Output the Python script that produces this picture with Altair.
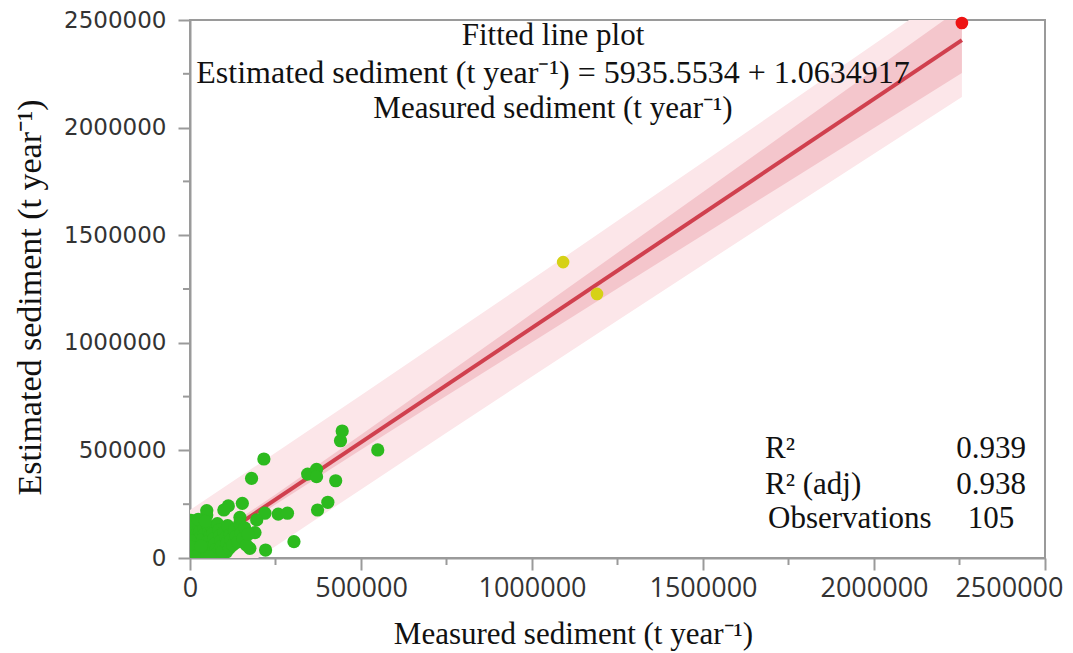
import altair as alt
import pandas as pd

# ---------------- data (t year^-1) ----------------
green_x = [445000, 440000, 549000, 216000, 180000, 344000, 370000, 370000, 426000, 403000,
           373000, 304000, 153000, 112000, 99000, 49000, 49000, 219000, 258000, 285000,
           195000, 146000, 175000, 221000, 190000, 107000, 132000,
           2000, 3000, 5000, 4000, 2000, 6000, 8000, 10000, 12000, 9000,
           11000, 14000, 15000, 18000, 20000, 17000, 19000, 22000, 25000, 25000,
           28000, 30000, 27000, 32000, 35000, 38000, 40000, 42000, 36000, 44000,
           46000, 50000, 52000, 55000, 58000, 50000, 60000, 62000, 65000, 68000,
           70000, 72000, 75000, 78000, 80000, 85000, 88000, 90000, 92000, 95000,
           100000, 105000, 108000, 110000, 115000, 118000, 120000, 125000, 130000, 135000,
           140000, 145000, 150000, 155000, 160000, 165000, 170000, 1000, 1000, 3000,
           7000, 13000, 24000, 33000, 45000, 57000]
green_y = [590000, 545000, 502000, 460000, 370000, 390000, 412000, 378000, 359000, 259000,
           223000, 76000, 254000, 242000, 223000, 220000, 200000, 208000, 204000, 208000,
           177000, 189000, 45000, 37000, 118000, 29000, 71000,
           150000, 120000, 90000, 60000, 30000, 10000, 170000, 140000, 100000, 75000,
           45000, 20000, 160000, 130000, 110000, 85000, 55000, 30000, 5000, 150000,
           120000, 95000, 70000, 40000, 15000, 165000, 140000, 110000, 85000, 60000,
           30000, 10000, 150000, 125000, 100000, 75000, 50000, 25000, 140000, 115000,
           90000, 65000, 40000, 20000, 160000, 130000, 105000, 80000, 55000, 30000,
           120000, 95000, 70000, 150000, 45000, 110000, 85000, 60000, 130000, 100000,
           75000, 160000, 115000, 90000, 140000, 60000, 110000, 5000, 80000, 175000,
           50000, 8000, 180000, 55000, 170000, 5000]
yellow_x = [1091000, 1190000]
yellow_y = [1375000, 1227000]
red_x = [2257000]
red_y = [2486000]

intercept = 5935.5534
slope = 1.0634917
fit_x = [0, 2257000]

band_x = [0, 250000, 500000, 750000, 1000000, 1250000, 1500000, 1750000, 2000000, 2257000]
ci_half = [22200, 23500, 35000, 50000, 66300, 83000, 100000, 117100, 134300, 152100]
pi_half = [217100, 217300, 218800, 221700, 225500, 231400, 238000, 245700, 254000, 264000]

major_ticks = [0, 500000, 1000000, 1500000, 2000000, 2500000]
minor_ticks = [250000, 750000, 1250000, 1750000, 2250000]

# ---------------- tables ----------------
pts = pd.DataFrame({"x": green_x, "y": green_y})
ylw = pd.DataFrame({"x": yellow_x, "y": yellow_y})
red = pd.DataFrame({"x": red_x, "y": red_y})
fit = pd.DataFrame({"x": fit_x, "y": [intercept + slope * v for v in fit_x]})
band = pd.DataFrame({
    "x": band_x,
    "ci_lo": [intercept + slope * v - h for v, h in zip(band_x, ci_half)],
    "ci_hi": [intercept + slope * v + h for v, h in zip(band_x, ci_half)],
    "pi_lo": [intercept + slope * v - h for v, h in zip(band_x, pi_half)],
    "pi_hi": [intercept + slope * v + h for v, h in zip(band_x, pi_half)],
})
minor = pd.DataFrame({"v": minor_ticks})

AX = "#9a9a9a"
SERIF = "Liberation Serif"

xs = alt.Scale(domain=[0, 2500000], nice=False, zero=False)
ys = alt.Scale(domain=[0, 2500000], nice=False, zero=False)

x_axis = alt.Axis(values=major_ticks, format="d", grid=False,
                  labelFont="Open Sans", labelFontSize=27, labelColor="#333333",
                  labelOverlap=False,
                  labelAlign={"condition": {"test": "datum.value == 2500000", "value": "right"},
                              "value": "center"},
                  labelOffset={"condition": {"test": "datum.value == 2500000", "value": 18},
                               "value": 0},
                  labelPadding=5, tickSize=12, tickColor=AX, tickWidth=2,
                  domainColor=AX, domainWidth=2,
                  title="Measured sediment (t year⁻¹)", titleFont=SERIF,
                  titleFontSize=31, titleFontWeight="normal", titleColor="#111111",
                  titleX=383, titleY=85, titleBaseline="alphabetic", titleAlign="center")
y_axis = alt.Axis(values=major_ticks, format="d", grid=False,
                  labelFont="DejaVu Sans", labelFontSize=23, labelColor="#333333",
                  labelPadding=12, tickSize=12, tickColor=AX, tickWidth=2,
                  domainColor=AX, domainWidth=2,
                  title="Estimated sediment (t year⁻¹)", titleFont=SERIF,
                  titleFontSize=34, titleFontWeight="normal", titleColor="#111111",
                  titleX=-150, titleY=277, titleAngle=270, titleBaseline="alphabetic",
                  titleAlign="center")

pi_area = alt.Chart(band).mark_area(color="#fce6e9", clip=True).encode(
    x=alt.X("x:Q", scale=xs, axis=x_axis),
    y=alt.Y("pi_lo:Q", scale=ys, axis=y_axis),
    y2="pi_hi:Q")
ci_area = alt.Chart(band).mark_area(color="#f4c6cc", clip=True).encode(
    x=alt.X("x:Q", scale=xs), y=alt.Y("ci_lo:Q", scale=ys), y2="ci_hi:Q")
line = alt.Chart(fit).mark_line(color="#d0404e", strokeWidth=4, clip=True).encode(
    x=alt.X("x:Q", scale=xs), y=alt.Y("y:Q", scale=ys))
green = alt.Chart(pts).mark_circle(color="#2cba1e", opacity=1, size=175, clip=True).encode(
    x=alt.X("x:Q", scale=xs), y=alt.Y("y:Q", scale=ys))
yellow = alt.Chart(ylw).mark_circle(color="#d6d116", opacity=1, size=160, clip=True).encode(
    x=alt.X("x:Q", scale=xs), y=alt.Y("y:Q", scale=ys))
redpt = alt.Chart(red).mark_circle(color="#ee1313", opacity=1, size=160).encode(
    x=alt.X("x:Q", scale=xs), y=alt.Y("y:Q", scale=ys))

minor_x = alt.Chart(minor).mark_rule(color=AX, strokeWidth=2).encode(
    x=alt.X("v:Q", scale=xs), y=alt.value(538), y2=alt.value(545))
minor_y = alt.Chart(minor).mark_rule(color=AX, strokeWidth=2).encode(
    y=alt.Y("v:Q", scale=ys), x=alt.value(-7), x2=alt.value(0))


def label(txt, x, y, size=31, align="center"):
    return alt.Chart(pd.DataFrame({"t": [txt]})).mark_text(
        font=SERIF, fontSize=size, color="#111111", align=align,
        baseline="alphabetic").encode(text="t:N", x=alt.value(x), y=alt.value(y))


texts = [
    label("Fitted line plot", 363, 25),
    label("Estimated sediment (t year⁻¹) = 5935.5534 + 1.0634917", 363, 63, 32),
    label("Measured sediment (t year⁻¹)", 363, 98),
    label("R²", 575, 438, 31, "left"),
    label("R² (adj)", 575, 474, 31, "left"),
    label("Observations", 578, 508, 31, "left"),
    label("0.939", 801, 438),
    label("0.938", 801, 474),
    label("105", 801, 508),
]

chart = alt.layer(pi_area, ci_area, line, green, yellow, redpt, minor_x, minor_y, *texts).properties(
    width=855, height=538,
    autosize=alt.AutoSizeParams(type="none"),
    padding={"left": 182, "top": 12, "right": 20, "bottom": 95},
).configure_view(stroke=AX, strokeWidth=2)

chart.save("out.html", embed_options={"renderer": "svg", "actions": False})
